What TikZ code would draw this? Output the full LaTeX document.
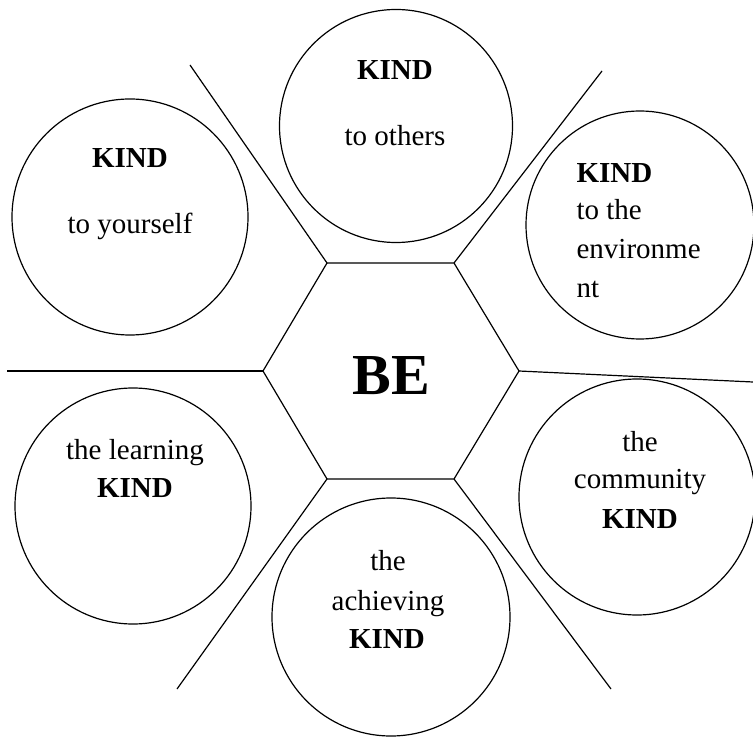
\documentclass[tikz,border=0pt]{standalone}
\usepackage{fontspec}
\setmainfont{Liberation Serif}
\begin{document}
\begin{tikzpicture}[x=1pt,y=-1pt,line width=1.2pt,
  ring/.style={draw,circle,inner sep=0pt},
  lbl/.style={anchor=base,inner sep=0pt,font=\fontsize{29}{34}\selectfont},
  kind/.style={anchor=base,inner sep=0pt,font=\fontsize{29}{34}\selectfont\bfseries},
  leftlbl/.style={lbl,anchor=base west},
  leftkind/.style={kind,anchor=base west}]
\useasboundingbox (0,0) rectangle (753,743);
% hexagon
\coordinate (h1) at (327,263);
\coordinate (h2) at (454,263);
\coordinate (h3) at (519,371);
\coordinate (h4) at (454,479);
\coordinate (h5) at (327,479);
\coordinate (h6) at (263,371);
\draw (h1)--(h2)--(h3)--(h4)--(h5)--(h6)--cycle;
\node[anchor=base,inner sep=0pt,font=\fontsize{58}{60}\selectfont\bfseries] (be) at (391,395) {BE};
% separators
\coordinate (e1) at (190,65);
\coordinate (e2) at (602,71);
\coordinate (e3) at (753,382);
\coordinate (e4) at (611,689);
\coordinate (e5) at (177,689);
\coordinate (e6) at (7,371);
\draw (h1)--(e1);
\draw (h2)--(e2);
\draw (h3)--(e3);
\draw (h4)--(e4);
\draw (h5)--(e5);
\draw (h6)--(e6);
% circles
\node[ring,minimum size=233pt] (ctop) at (396,126) {};
\node[ring,minimum size=236pt] (ctl) at (130,217) {};
\node[ring,minimum size=228pt] (ctr) at (640,225) {};
\node[ring,minimum size=236pt] (cbl) at (133,506) {};
\node[ring,minimum size=236pt] (cbr) at (637,497) {};
\node[ring,minimum size=238pt] (cb) at (391,617) {};
% texts
\node[kind] (t1a) at (395,80) {KIND};
\node[lbl] (t1b) at (395,146) {to others};
\node[kind] (t2a) at (130,168) {KIND};
\node[lbl] (t2b) at (130,234) {to yourself};
\node[leftkind] (t3a) at (576,183) {KIND};
\node[leftlbl] (t3b) at (576,220) {to the};
\node[leftlbl] (t3c) at (576,259) {environme};
\node[leftlbl] (t3d) at (576,298) {nt};
\node[lbl] (t4a) at (135,460) {the learning};
\node[kind] (t4b) at (135,497) {KIND};
\node[lbl] (t5a) at (640,451) {the};
\node[lbl] (t5b) at (640,489) {community};
\node[kind] (t5c) at (640,528) {KIND};
\node[lbl] (t6a) at (388,570) {the};
\node[lbl] (t6b) at (388,610) {achieving};
\node[kind] (t6c) at (387,648) {KIND};
\end{tikzpicture}
\end{document}
